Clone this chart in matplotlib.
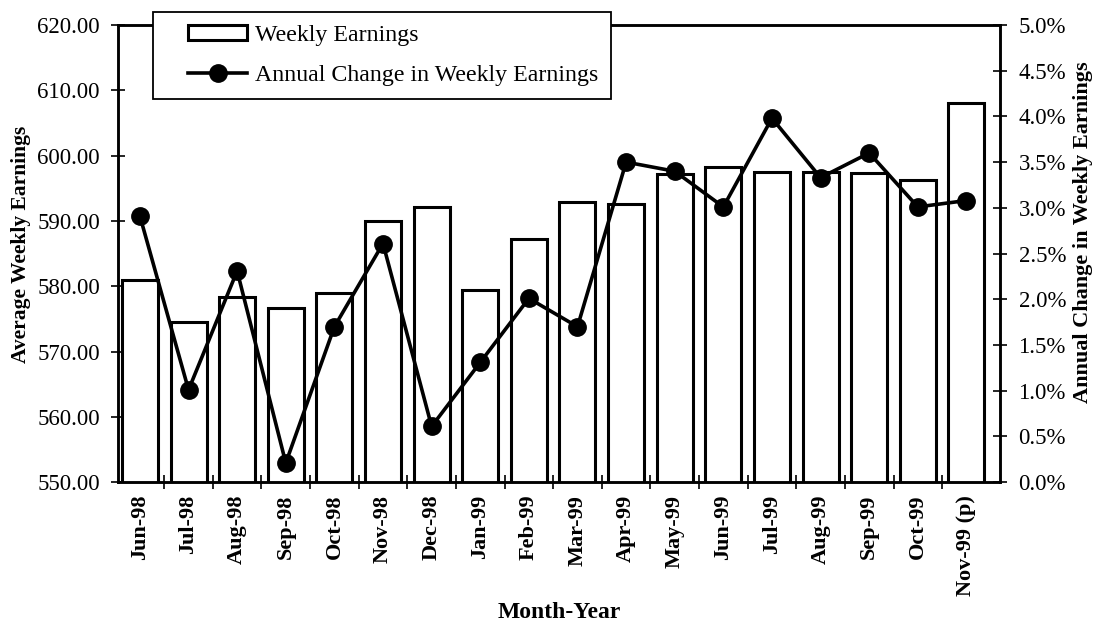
import matplotlib.pyplot as plt
import numpy as np
from matplotlib.legend_handler import HandlerLine2D, HandlerPatch
from matplotlib.lines import Line2D
from matplotlib.patches import Rectangle
from matplotlib.ticker import FormatStrFormatter, FuncFormatter

months = ["Jun-98", "Jul-98", "Aug-98", "Sep-98", "Oct-98", "Nov-98", "Dec-98",
          "Jan-99", "Feb-99", "Mar-99", "Apr-99", "May-99", "Jun-99", "Jul-99",
          "Aug-99", "Sep-99", "Oct-99", "Nov-99 (p)"]
weekly_earnings = [580.9, 574.6, 578.3, 576.6, 579.0, 590.0, 592.2, 579.4, 587.3,
                   592.9, 592.6, 597.2, 598.3, 597.5, 597.5, 597.4, 596.3, 608.1]
annual_change = [2.91, 1.01, 2.31, 0.21, 1.70, 2.61, 0.61, 1.31, 2.01,
                 1.70, 3.50, 3.40, 3.01, 3.98, 3.33, 3.60, 3.01, 3.08]

plt.rcParams["font.family"] = ["Liberation Serif", "DejaVu Serif"]

fig = plt.figure(figsize=(10.97, 6.23), dpi=100)
ax = fig.add_axes([0.1076, 0.226, 0.8044, 0.734])
x = np.arange(len(months))

bars = ax.bar(x, weekly_earnings, width=0.74, color="white",
              edgecolor="black", linewidth=2.2, label="Weekly Earnings", zorder=2)
ax.set_ylim(550, 620)
ax.set_yticks(np.arange(550, 621, 10))
ax.yaxis.set_major_formatter(FormatStrFormatter("%.2f"))
ax.set_xlim(-0.45, 17.7)
ax.set_xticks(x)
ax.set_xticklabels(months, rotation=90, fontweight="bold", fontsize=16)
ax.set_xticks(x[:-1] + 0.5, minor=True)
ax.tick_params(axis="x", which="major", length=0, pad=9)
ax.tick_params(axis="x", which="minor", direction="inout", length=10, width=1.2)
ax.tick_params(axis="y", direction="inout", length=10, width=1.2, labelsize=16.5, pad=8)
ax.set_ylabel("Average Weekly Earnings", fontweight="bold", fontsize=15.5, va="center")
ax.yaxis.set_label_coords(-0.11, 0.52)
ax.set_xlabel("Month-Year", fontweight="bold", fontsize=17, va="center")
ax.xaxis.set_label_coords(0.5, -0.285)
for s in ax.spines.values():
    s.set_linewidth(1.8)

ax2 = ax.twinx()
line, = ax2.plot(x, annual_change, color="black", linewidth=2.6, marker="o",
                 markersize=12.5, label="Annual Change in Weekly Earnings", zorder=3)
ax2.set_ylim(0, 5)
ax2.set_yticks(np.arange(0, 5.01, 0.5))
ax2.yaxis.set_major_formatter(FuncFormatter(lambda v, p: f"{v:.1f}%"))
ax2.tick_params(axis="y", direction="inout", length=10, width=1.2, labelsize=16.5, pad=8)
ax2.set_ylabel("Annual Change in Weekly Earnings", fontweight="bold", fontsize=16,
               va="center")
ax2.yaxis.set_label_coords(1.094, 0.547)
for s in ax2.spines.values():
    s.set_linewidth(1.8)

# legend handles sit on the right part of a wider handle box (big left margin)
leg = fig.legend([bars.patches[0], line],
                 ["Weekly Earnings", "Annual Change in Weekly Earnings"],
                 handler_map={Rectangle: HandlerPatch(xpad=0.9),
                              Line2D: HandlerLine2D(xpad=0.9)},
                 loc="upper left", bbox_to_anchor=(0.1395, 0.981),
                 bbox_transform=fig.transFigure, fontsize=17.2, fancybox=False,
                 framealpha=1, edgecolor="black", handlelength=3.4,
                 handleheight=0.55, numpoints=1, labelspacing=0.78,
                 borderpad=0.55, handletextpad=0.3, borderaxespad=0)
leg.get_frame().set_linewidth(1.3)

fig.savefig("out.png", dpi=100)
